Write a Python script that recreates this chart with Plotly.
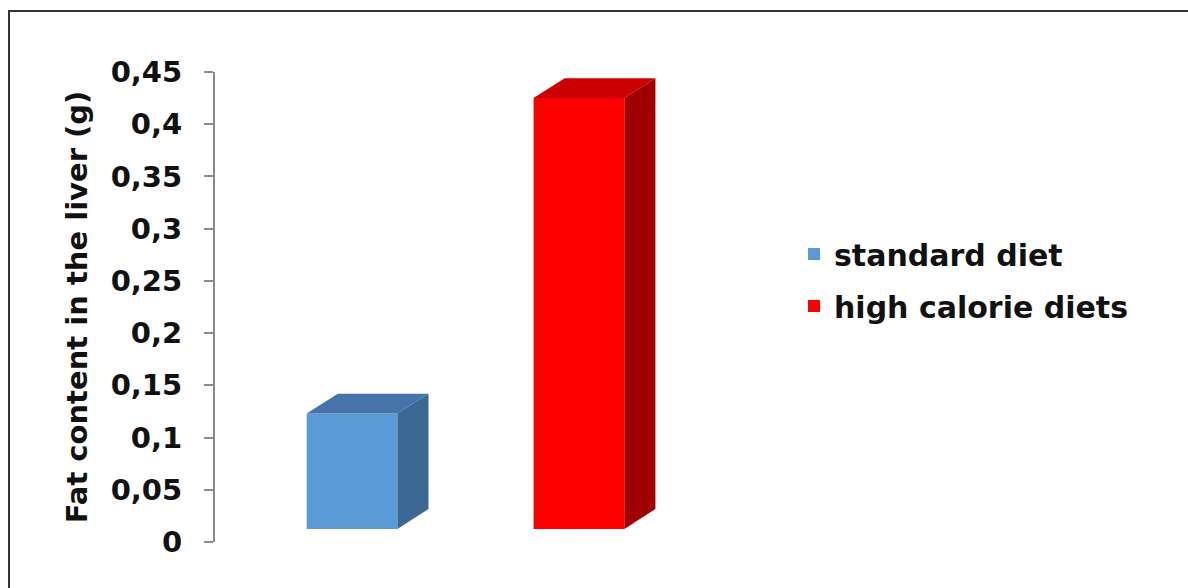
import plotly.graph_objects as go

# ---- data ----
categories = ["standard diet", "high calorie diets"]
values = [0.123, 0.425]          # top of front face read against the axis
front_colors = ["#5B9BD5", "#FF0000"]
top_colors = ["#4674A8", "#CC0000"]
side_colors = ["#3C6894", "#A00000"]
tick_vals = [0, 0.05, 0.1, 0.15, 0.2, 0.25, 0.3, 0.35, 0.4, 0.45]
tick_text = ["0", "0,05", "0,1", "0,15", "0,2", "0,25", "0,3", "0,35", "0,4", "0,45"]
y_title = "Fat content in the liver (g)"

# ---- style constants for pseudo-3D ----
BAR_W = 0.40
FLOOR = 0.0125
DX = 0.137
DY = 0.019

FONT = "DejaVu Sans"
fig = go.Figure()

for i, (name, v) in enumerate(zip(categories, values)):
    xl, xr = i - BAR_W / 2, i + BAR_W / 2
    # side face
    fig.add_trace(go.Scatter(
        x=[xr, xr, xr + DX, xr + DX, xr],
        y=[FLOOR, v, v + DY, FLOOR + DY, FLOOR],
        fill="toself", fillcolor=side_colors[i], mode="lines",
        line=dict(width=0, color=side_colors[i]), showlegend=False, hoverinfo="skip"))
    # top face
    fig.add_trace(go.Scatter(
        x=[xl, xl + DX, xr + DX, xr, xl],
        y=[v, v + DY, v + DY, v, v],
        fill="toself", fillcolor=top_colors[i], mode="lines",
        line=dict(width=0, color=top_colors[i]), showlegend=False, hoverinfo="skip"))
    # front face
    fig.add_trace(go.Bar(
        x=[i], y=[v - FLOOR], base=FLOOR, width=BAR_W, name=name,
        marker=dict(color=front_colors[i], line=dict(width=0)),
        legendgroup=name))

L, T, PW, PH = 215, 72, 501, 470
W, H = 1188, 588

def px_x(p):
    return (p - L) / PW

def px_y(p):
    return (T + PH - p) / PH

fig.add_shape(type="rect", xref="paper", yref="paper",
              x0=px_x(9), x1=px_x(1200), y0=px_y(620), y1=px_y(11),
              line=dict(color="#333333", width=2), fillcolor="rgba(0,0,0,0)", layer="above")

fig.update_layout(
    width=W, height=H,
    margin=dict(l=L, t=T, r=W - L - PW, b=H - T - PH, pad=0),
    paper_bgcolor="white", plot_bgcolor="white",
    barmode="overlay",
    showlegend=True,
    legend=dict(x=px_x(794), y=px_y(228), xanchor="left", yanchor="top",
                font=dict(family=FONT, size=30, color="#111111", weight="bold"),
                tracegroupgap=10, traceorder="grouped", bgcolor="rgba(0,0,0,0)",
                itemclick=False),
    xaxis=dict(range=[-0.604, 1.604], showticklabels=False, showgrid=False,
               zeroline=False, showline=False, ticks=""),
    yaxis=dict(range=[0, 0.45], tickvals=tick_vals, ticktext=tick_text,
               showgrid=False, zeroline=False, showline=True, linecolor="#8C8C8C",
               linewidth=2, ticks="outside", ticklen=9, tickwidth=1.5, tickcolor="#8C8C8C",
               ticklabelstandoff=16,
               tickfont=dict(family=FONT, size=29, color="#111111", weight="bold"),
               title=dict(text=y_title, standoff=14,
                          font=dict(family=FONT, size=29, color="#111111", weight="bold"))),
)

fig.write_html("out.html")
